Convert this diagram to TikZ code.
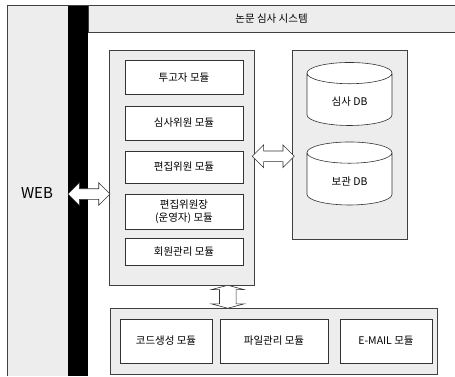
\documentclass[tikz,border=0pt]{standalone}
\usepackage{fontspec}
\setmainfont{Noto Sans CJK KR}
\usetikzlibrary{positioning}
\usetikzlibrary{shapes.geometric}
\usetikzlibrary{shapes.arrows}
\usetikzlibrary{calc}

\begin{document}
\begin{tikzpicture}[x=1pt,y=-1pt,
panel/.style={draw=black!75,fill=black!7,rectangle,line width=0.6pt,inner sep=0pt},
module/.style={draw=black!80,fill=white,rectangle,align=center,line width=0.6pt,
minimum width=118pt,minimum height=34pt,inner sep=1pt,font=\fontsize{10.5}{13}\selectfont},
db/.style={draw=black!80,fill=white,cylinder,shape border rotate=90,aspect=0.5,
minimum width=85pt,minimum height=63pt,line width=0.6pt,font=\fontsize{10.5}{13}\selectfont},
fat/.style={draw=black!80,fill=white,double arrow,double arrow head extend=6pt,
inner xsep=0pt,inner ysep=5pt,minimum height=42pt,line width=0.6pt}]
\useasboundingbox (0,0) rectangle (455,376);

% frame
\node[panel, minimum width=61pt, minimum height=371pt, draw=none] (web) at (37.5,190.5) {};
\node[fill=black, minimum width=20pt, minimum height=371pt, inner sep=0pt] (bus) at (78,190.5) {};
\node[panel, minimum width=367pt, minimum height=27pt] (title) at (271.5,18.5)
  {\fontsize{10.5}{13}\selectfont 논문 심사 시스템};
\draw[line width=0.6pt, black!75] (7,376) -- (7,5) -- (455,5);
\node[font=\fontsize{15}{18}\selectfont] (weblabel) at (37,193) {WEB};

% containers
\node[panel, minimum width=145pt, minimum height=235pt] (modbox) at (182,168) {};
\node[panel, minimum width=115pt, minimum height=189pt] (dbbox) at (349.5,144.5) {};
\node[panel, minimum width=327pt, minimum height=66pt] (subbox) at (273.5,341) {};

% modules
\node[module] (author) at (184,77.5) {투고자 모듈};
\node[module] (reviewer) at (184,123) {심사위원 모듈};
\node[module, minimum height=32pt] (editor) at (184,167) {편집위원 모듈};
\node[module, minimum height=35pt] (chief) at (184,211.5) {편집위원장\\(운영자) 모듈};
\node[module, minimum height=27pt] (member) at (184,252) {회원관리 모듈};

% databases
\node[db] (reviewdb) at (349.5,101.5) {심사 DB};
\node[db] (archivedb) at (349.5,181) {보관 DB};

% sub modules
\node[module, minimum width=92pt, minimum height=44pt] (codegen) at (166,341) {코드생성 모듈};
\node[module, minimum width=108pt, minimum height=44pt] (filemgr) at (274,341) {파일관리 모듈};
\node[module, minimum width=92pt, minimum height=44pt] (email) at (386,341) {E-MAIL 모듈};

% fat arrows
\node[fat] (webarrow) at (89,194) {};
\node[fat] (dbarrow) at ($(modbox.east)!0.5!(dbbox.west)$ |- 0,147) {};
\node[fat, shape border rotate=90, inner xsep=8pt, inner ysep=0pt, double arrow head extend=8pt,
  double arrow tip angle=150, minimum height=23pt] (subarrow)
  at ($(modbox.south)!0.5!(subbox.north)$) {};
\end{tikzpicture}
\end{document}
